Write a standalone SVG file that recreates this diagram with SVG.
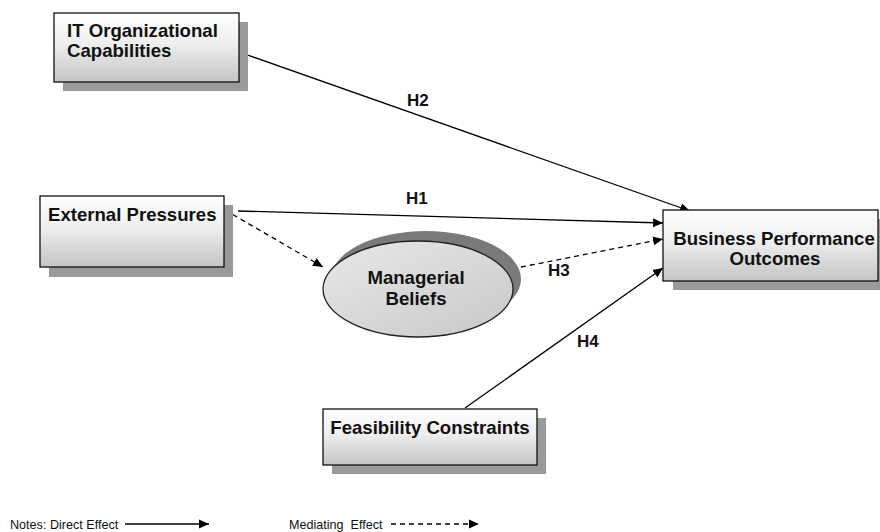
<svg xmlns="http://www.w3.org/2000/svg" width="880" height="532" viewBox="0 0 880 532">
<defs>
<linearGradient id="boxg" x1="0" y1="0" x2="0" y2="1">
<stop offset="0" stop-color="#ffffff"/>
<stop offset="0.45" stop-color="#eeeeee"/>
<stop offset="1" stop-color="#c4c4c4"/>
</linearGradient>
<linearGradient id="ellg" x1="0" y1="0" x2="1" y2="1">
<stop offset="0" stop-color="#e8e8e8"/>
<stop offset="1" stop-color="#c8c8c8"/>
</linearGradient>
<marker id="arr" viewBox="0 0 10 10" refX="10" refY="5" markerWidth="10" markerHeight="10" markerUnits="userSpaceOnUse" orient="auto">
<path d="M0,0.5 L10,5 L0,9.5 Z" fill="#000"/>
</marker>
</defs>
<style>
.box{fill:url(#boxg);stroke:#111;stroke-width:1.3}
.sh{fill:#9a9a9a}
.t{font-family:"Liberation Sans",Arial,sans-serif;font-weight:bold;font-size:18.6px;fill:#111}
.h{font-family:"Liberation Sans",Arial,sans-serif;font-weight:bold;font-size:17px;fill:#111}
.n{font-family:"Liberation Sans",Arial,sans-serif;font-size:12.6px;fill:#111}
.ln{stroke:#000;stroke-width:1.3;fill:none}
.ds{stroke:#000;stroke-width:1.3;fill:none;stroke-dasharray:5,4}
</style>
<g id="connectors">
<line class="ln" x1="239" y1="52" x2="690" y2="211" marker-end="url(#arr)"/>
<line class="ln" x1="238" y1="211" x2="663" y2="223" marker-end="url(#arr)"/>
<line class="ds" x1="225" y1="210" x2="323" y2="267" marker-end="url(#arr)"/>
<line class="ds" x1="521" y1="267" x2="663" y2="239" marker-end="url(#arr)"/>
<line class="ln" x1="465" y1="408" x2="663" y2="268" marker-end="url(#arr)"/>
<text class="h" x="407" y="106">H2</text>
<text class="h" x="406" y="204">H1</text>
<text class="h" x="548" y="276">H3</text>
<text class="h" x="577" y="347">H4</text>
</g>
<g id="it">
<rect class="sh" x="63" y="22" width="185" height="69"/>
<rect class="box" x="54" y="13" width="185" height="69"/>
<text class="t" x="67" y="37">IT Organizational</text>
<text class="t" x="67" y="57">Capabilities</text>
</g>
<g id="external">
<rect class="sh" x="49" y="205" width="184" height="72"/>
<rect class="box" x="40" y="196" width="184" height="71"/>
<text class="t" x="48" y="221">External Pressures</text>
</g>
<g id="beliefs">
<ellipse cx="426" cy="279" rx="95" ry="48" fill="#7a7a7a"/>
<ellipse cx="418" cy="289" rx="95" ry="48" fill="url(#ellg)" stroke="#222" stroke-width="1.3"/>
<text class="t" x="416" y="284" text-anchor="middle">Managerial</text>
<text class="t" x="416" y="305" text-anchor="middle">Beliefs</text>
</g>
<g id="business">
<rect class="sh" x="673" y="219" width="215" height="71"/>
<rect class="box" x="663" y="210" width="215" height="71"/>
<text class="t" x="774" y="245" text-anchor="middle">Business Performance</text>
<text class="t" x="775" y="265" text-anchor="middle">Outcomes</text>
</g>
<g id="feasibility">
<rect class="sh" x="332" y="418" width="214" height="56"/>
<rect class="box" x="323" y="409" width="214" height="56"/>
<text class="t" x="430" y="434" text-anchor="middle">Feasibility Constraints</text>
</g>
<g id="legend">
<text class="n" x="10" y="529">Notes: Direct Effect</text>
<line class="ln" x1="125" y1="524" x2="209" y2="524" stroke-width="1" marker-end="url(#arr)"/>
<text class="n" x="289" y="529" xml:space="preserve">Mediating  Effect</text>
<line class="ds" x1="391" y1="524" x2="479" y2="524" stroke-width="1" stroke-dasharray="4,3" marker-end="url(#arr)"/>
</g>
</svg>
